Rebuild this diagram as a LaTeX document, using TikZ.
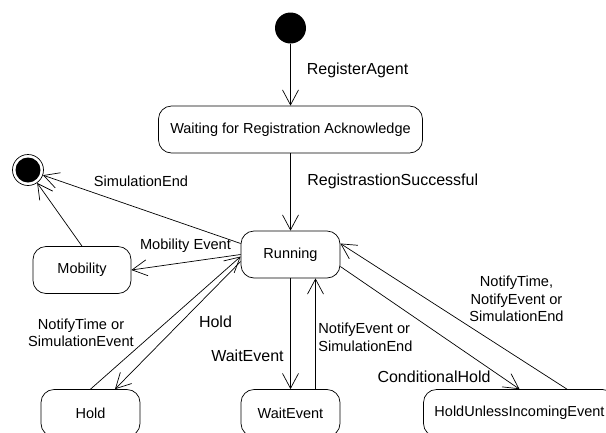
\documentclass[tikz,border=0pt]{standalone}
\usepackage{fontspec}
\setmainfont{Liberation Sans}
\usetikzlibrary{arrows.meta}

\begin{document}
\begin{tikzpicture}[
    x			= 1pt,
    y			= -1pt,
    line width		= 0.7pt,
    >			= {Straight Barb[length=15pt,width=16pt]},
    state/.style	= {draw, rounded corners=13pt, minimum height=47pt, inner sep=0pt, font=\fontsize{14.5}{17}\selectfont},
    initial/.style	= {circle, fill, minimum size=31pt, inner sep=0pt},
    final/.style	= {circle, draw, minimum size=31pt, inner sep=0pt,
                           path picture={\fill (path picture bounding box.center) circle (12.5pt);}},
    lbl/.style		= {inner sep=0pt, align=center, font=\fontsize{14.6}{17.5}\selectfont},
    biglbl/.style	= {inner sep=0pt, font=\fontsize{16}{19}\selectfont}
  ]
\useasboundingbox (0,0) rectangle (606,432);
\clip (0,0) rectangle (606,432);
% states
\node[initial] (init) at (290.5,28) {};
\node[final] (fin) at (28,170) {};
\node[state, minimum width=264pt] (wait) at (290.5,129.5) {Waiting for Registration Acknowledge};
\node[state, minimum width=99pt] (run) at (290.5,254.5) {Running};
\node[state, minimum width=98pt] (mob) at (82,270) {Mobility};
\node[state, minimum width=99pt] (hold) at (90.5,413) {Hold};
\node[state, minimum width=99pt] (wev) at (290.5,413) {WaitEvent};
\node[state, minimum width=192pt] (hue) at (519.5,413) {HoldUnlessIncomingEvent};
% transitions
\draw[->] (init) -- (wait);
\draw[->] (wait) -- (run);
\draw[->] ([yshift=11pt]run.west) -- (fin);
\draw[->] (mob.north) -- (fin);
\draw[->] (run.west) -- (mob.east);
\draw[->] (hold.north) -- ([yshift=-2pt]run.west);
\draw[->] ([yshift=-7pt]run.west) -- ([xshift=24.5pt]hold.north);
\draw[->] (run.south) -- (wev.north);
\draw[->] ([xshift=25pt]wev.north) -- ([xshift=25pt]run.south);
\draw[->] ([yshift=-12pt]run.east) -- (hue.north);
\draw[->] ([xshift=47.5pt]hue.north) -- ([yshift=11pt]run.east);
% labels
\node[biglbl, anchor=west] (lReg) at (306.5,70) {RegisterAgent};
\node[biglbl, anchor=west] (lSucc) at (307,181) {RegistrastionSuccessful};
\node[lbl] (lSimEnd) at (141,181.5) {SimulationEnd};
\node[lbl] (lMobEv) at (185.5,246) {Mobility Event};
\node[lbl] (lNotHold) at (81,333) {NotifyTime or\\SimulationEvent};
\node[biglbl] (lHold) at (215.5,322) {Hold};
\node[biglbl, anchor=east] (lWait) at (284,356) {WaitEvent};
\node[lbl, anchor=west, align=left] (lNotWait) at (318,337.5) {NotifyEvent or\\SimulationEnd};
\node[biglbl] (lCond) at (434,376.7) {ConditionalHold};
\node[lbl] (lNotHue) at (516.5,299) {NotifyTime,\\NotifyEvent or\\SimulationEnd};
%
\end{tikzpicture}
\end{document}
